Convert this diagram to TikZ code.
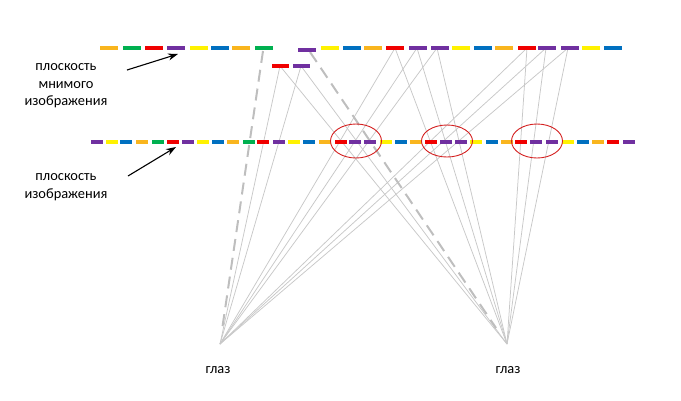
\documentclass[tikz,border=0pt]{standalone}
\usepackage{fontspec}
\setmainfont{Carlito}
\usetikzlibrary{arrows.meta}
\definecolor{orng}{HTML}{F9B51E}
\definecolor{grn}{HTML}{00B050}
\definecolor{rd}{HTML}{F00000}
\definecolor{prp}{HTML}{7030A0}
\definecolor{ylw}{HTML}{FFF200}
\definecolor{blu}{HTML}{0070C0}
\definecolor{ray}{HTML}{C8C8C8}
\definecolor{ell}{HTML}{D42020}
\tikzset{
  topseg/.style={line width=4pt},
  midseg/.style={line width=3.5pt},
  rayline/.style={draw=ray,line width=0.75pt},
  dashray/.style={draw=ray!95!black,line width=2pt,dash pattern=on 12pt off 7pt},
  ring/.style={draw=ell,line width=0.9pt},
  pointer/.style={draw=black,line width=1.1pt,-{Stealth[length=10pt,width=7pt]}},
  lbl/.style={font=\fontsize{14.4}{17.5}\selectfont,align=center,text=black}
}
\begin{document}
\begin{tikzpicture}[x=1pt,y=-1pt]
\useasboundingbox (0,0) rectangle (681,400);
% points
\coordinate (eyeL) at (220,344);
\coordinate (eyeR) at (507,344);
\coordinate (l1) at (280,66);
\coordinate (l2) at (301,66);
\coordinate (a1) at (395,48);
\coordinate (a2) at (417,48);
\coordinate (a3) at (437,48);
\coordinate (b1) at (527,48);
\coordinate (b2) at (546,48);
\coordinate (b3) at (568,48);
\coordinate (dL1) at (263,51);
\coordinate (dL2) at (222,330);
\coordinate (dR1) at (310,52);
\coordinate (dR2) at (496,328);
% rays
\foreach \p in {l1,l2,a1,a2,a3,b1,b2,b3} {
  \draw[rayline] (eyeL) -- (\p);
  \draw[rayline] (eyeR) -- (\p);
}
\draw[dashray] (dL1) -- (dL2);
\draw[dashray] (dR1) -- (dR2);
% virtual image plane
\foreach \s/\c in {100/orng,123/grn,145/rd,167/prp,190/ylw,211/blu,232/orng,255/grn,321/ylw,343/blu,364/orng,386/rd,409/prp,431/prp,452/ylw,474/blu,495/orng,518/rd,538/prp,561/prp,582/ylw,604/blu}
  \draw[topseg,\c] (\s,48) -- ++(17.5,0);
\draw[topseg,prp] (298,49.5) -- ++(17.5,0);
\draw[topseg,rd] (272,66) -- ++(16.5,0);
\draw[topseg,prp] (293,66) -- ++(17,0);
% image plane
\foreach \s/\c in {91/prp,106/ylw,120/blu,136/orng,152/grn,167/rd,182/prp,197/ylw,212/blu,227/orng,243/grn,257/rd,273/prp,288/ylw,303/blu,319/orng,335/rd,349/prp,364/prp,380/ylw,395/blu,410/orng,425/rd,440/prp,455/prp,470/ylw,486/blu,501/orng,515/rd,530/prp,546/prp,562/ylw,577/blu,592/orng,607/rd,623/prp}
  \draw[midseg,\c] (\s,142) -- ++(12,0);
% rings
\draw[ring] (356,141) ellipse [x radius=25.5, y radius=17];
\draw[ring] (447,141) ellipse [x radius=25.5, y radius=16];
\draw[ring] (537,141) ellipse [x radius=25.5, y radius=17];
% labels
\node[lbl] (t1) at (66,86) {плоскость\\мнимого\\изображения};
\node[lbl] (t2) at (66,187) {плоскость\\изображения};
\node[lbl] (g1) at (218,370) {глаз};
\node[lbl] (g2) at (508,370) {глаз};
\coordinate (p1s) at (127,70);
\coordinate (p1e) at (178,54);
\coordinate (p2s) at (128,176);
\coordinate (p2e) at (176,147);
\draw[pointer] (p1s) -- (p1e);
\draw[pointer] (p2s) -- (p2e);
\end{tikzpicture}
\end{document}
